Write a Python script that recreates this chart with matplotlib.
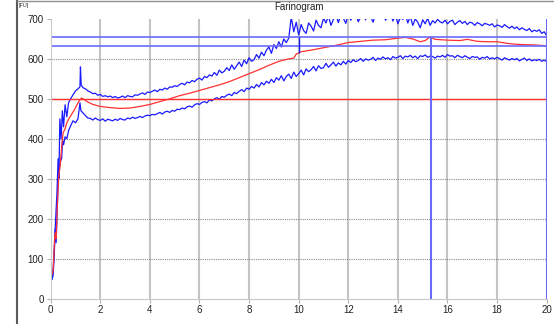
import matplotlib
matplotlib.use("Agg")
import matplotlib.pyplot as plt
from matplotlib.lines import Line2D
import numpy as np

plt.rcParams['font.family'] = ['Liberation Sans', 'DejaVu Sans']

# Upper (blue) band - first minutes read point by point
upperEarlyT = [0.0, 0.03, 0.06, 0.1, 0.15, 0.2, 0.25, 0.3, 0.33, 0.37, 0.42, 0.47, 0.52,
               0.58, 0.65, 0.72, 0.8, 0.9, 1.0, 1.1, 1.18, 1.2, 1.23, 1.3, 1.4, 1.5]
upperEarly = [55, 70, 50, 75, 130, 200, 260, 350, 300, 450, 400, 470, 430,
              485, 455, 490, 500, 510, 520, 525, 530, 580, 535, 528, 525, 520]
# Upper band from 1.6 to 20.0 min, every 0.1 min
upperRest = [517, 513, 514, 509, 511, 506, 508, 505, 507, 503,
             506, 502, 504, 507, 503, 508, 506, 505, 510, 509,
             512, 515, 511, 517, 516, 519, 522, 518, 524, 522,
             527, 524, 530, 529, 533, 531, 536, 539, 535, 542,
             540, 546, 543, 549, 552, 547, 556, 553, 560, 557,
             566, 559, 572, 565, 569, 578, 571, 585, 574, 583,
             592, 581, 597, 588, 603, 594, 598, 611, 602, 617,
             608, 622, 630, 614, 636, 626, 643, 630, 650, 641,
             652, 705, 668, 692, 660, 686, 671, 664, 690, 682,
             670, 697, 684, 678, 702, 690, 708, 684, 699, 710,
             691, 712, 702, 689, 714, 697, 708, 716, 693, 705,
             711, 698, 716, 706, 692, 713, 701, 709, 720, 697,
             706, 713, 695, 710, 688, 704, 699, 712, 690, 707,
             684, 700, 692, 678, 698, 688, 702, 684, 696, 690,
             699, 693, 690, 697, 688, 694, 697, 686, 692, 696,
             689, 694, 686, 692, 690, 684, 691, 688, 683, 689,
             687, 684, 688, 680, 685, 683, 679, 686, 681, 677,
             682, 676, 680, 673, 678, 674, 671, 676, 668, 672,
             669, 673, 664, 668, 658]

# Lower (blue) band
lowerEarlyT = [0.0, 0.03, 0.06, 0.1, 0.15, 0.18, 0.22, 0.27, 0.3, 0.35, 0.4, 0.44, 0.48,
               0.52, 0.58, 0.65, 0.72, 0.8, 0.9, 1.0, 1.1, 1.18, 1.22, 1.3, 1.4, 1.5]
lowerEarly = [50, 65, 48, 60, 120, 175, 140, 230, 290, 330, 345, 350, 395,
              385, 405, 400, 420, 432, 445, 440, 450, 490, 470, 465, 458, 452]
lowerRest = [451, 447, 452, 448, 446, 450, 444, 449, 447, 445,
             449, 446, 451, 448, 447, 452, 450, 454, 451, 453,
             456, 453, 457, 459, 458, 461, 460, 463, 466, 462,
             467, 469, 466, 471, 469, 474, 473, 477, 475, 480,
             482, 479, 485, 488, 486, 491, 493, 490, 497, 495,
             500, 503, 499, 506, 504, 509, 512, 508, 516, 513,
             519, 523, 518, 527, 524, 531, 527, 536, 530, 541,
             535, 544, 539, 549, 541, 553, 547, 558, 545, 556,
             562, 551, 567, 556, 563, 572, 560, 575, 568, 573,
             581, 570, 583, 576, 578, 589, 579, 585, 592, 582,
             590, 585, 594, 587, 596, 591, 598, 593, 596, 601,
             594, 600, 597, 599, 604, 596, 602, 599, 605, 600,
             603, 598, 606, 602, 604, 608, 601, 607, 605, 609,
             603, 607, 601, 608, 606, 610, 604, 607, 606, 602,
             607, 605, 609, 604, 611, 607, 608, 603, 609, 606,
             603, 608, 604, 601, 606, 604, 605, 599, 604, 602,
             606, 600, 603, 600, 604, 601, 597, 603, 600, 597,
             601, 598, 601, 595, 599, 602, 596, 600, 595, 598,
             596, 599, 594, 597, 593]

# Middle (red) curve
redT = [0.05, 0.1, 0.15, 0.18, 0.22, 0.28, 0.33, 0.38, 0.45, 0.5, 0.58, 0.65, 0.75, 0.85,
        0.95, 1.05, 1.15, 1.25, 1.35, 1.5, 1.7, 2.0, 2.4, 2.8, 3.2, 3.6, 4.0, 4.4, 4.8,
        5.2, 5.6, 6.0, 6.4, 6.8, 7.2, 7.6, 8.0, 8.4, 8.8, 9.2, 9.6, 9.8, 9.9, 10.1, 10.5,
        11.0, 11.5, 12.0, 12.5, 13.0, 13.5, 14.0, 14.3, 14.6, 14.9, 15.1, 15.3, 15.5,
        16.0, 16.5, 16.8, 17.2, 17.6, 18.0, 18.4, 18.7, 19.0, 19.5, 20.0]
redV = [60, 70, 140, 165, 150, 250, 310, 330, 385, 415, 425, 440, 452, 462,
        472, 484, 495, 502, 498, 492, 486, 481, 478, 476, 477, 481, 486, 493, 500,
        508, 514, 521, 528, 535, 543, 553, 563, 573, 584, 594, 600, 602, 612, 618, 622,
        628, 634, 641, 644, 647, 648, 652, 654, 650, 643, 646, 655, 649,
        647, 646, 649, 644, 643, 643, 639, 637, 636, 635, 633]

# Reference lines
upperLimit = 656
lowerLimit = 633
lineAt500 = 500
markerTime = 15.32

gridT = np.round(np.arange(1.6, 20.05, 0.1), 1)

fig = plt.figure(figsize=(5.54, 3.24), dpi=100)
ax = fig.add_axes([0.0915, 0.0787, 0.8953, 0.8627])

blue = '#1a1aff'
lineBlue = '#6a6aff'

# grid
for x in range(2, 20, 2):
    ax.axvline(x, color='#c4c4c4', lw=1.5, zorder=0)
for y in range(100, 700, 100):
    ax.axhline(y, color='#8a8a8a', lw=0.8, ls=(0, (1, 1)), zorder=0)

ax.plot(list(upperEarlyT) + list(gridT), upperEarly + upperRest, color=blue, lw=0.9)
ax.plot(list(lowerEarlyT) + list(gridT), lowerEarly + lowerRest, color=blue, lw=0.9)
ax.plot(redT, redV, color='#ff3030', lw=0.9)

ax.axhline(lineAt500, color='#ff3030', lw=1.0)
ax.axhline(upperLimit, color=lineBlue, lw=1.2)
ax.axhline(lowerLimit, color=lineBlue, lw=1.2)
ax.vlines(markerTime, 0, upperLimit, color=lineBlue, lw=1.5)
ax.vlines(20, 0, 700, color=lineBlue, lw=1.5)
ax.vlines(10, 615, upperLimit, color=blue, lw=1.0)

ax.set_xlim(0, 20)
ax.set_ylim(0, 700)
ax.set_xticks(range(0, 21, 2))
ax.set_yticks(range(0, 701, 100))
ax.tick_params(labelsize=7, length=3, color='#b0b0b0', colors='#222222', pad=2)
for s in ['top', 'right']:
    ax.spines[s].set_visible(False)
for s in ['left', 'bottom']:
    ax.spines[s].set_color('#c8c8c8')

fig.text(0.539, 0.978, "Farinogram", ha='center', va='center', fontsize=7, color='#222222')
fig.text(0.033, 0.99, "[FU]", ha='left', va='top', fontsize=4, color='#333333')

# outer window frame
fig.add_artist(Line2D([16.5 / 554, 16.5 / 554], [0, 1], color='#5a5a5a', lw=1.5))
fig.add_artist(Line2D([16.5 / 554, 1], [0.996, 0.996], color='#909090', lw=1.0))

fig.savefig("out.png", dpi=100)
